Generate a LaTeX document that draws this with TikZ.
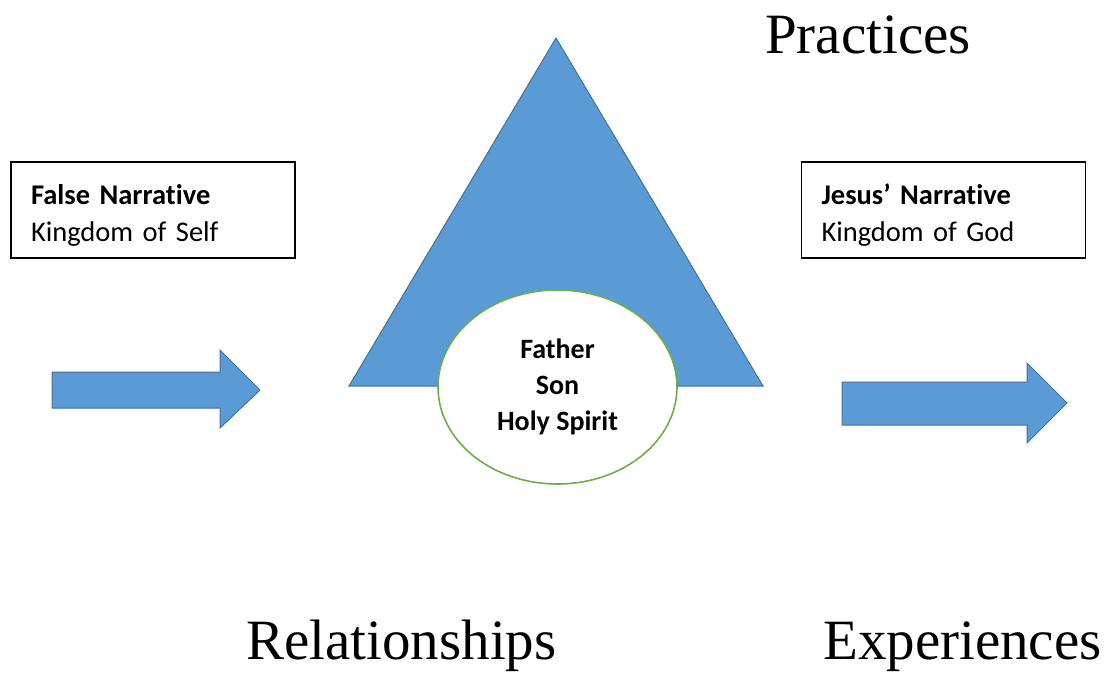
\documentclass[tikz,border=0pt]{standalone}
\usepackage{fontspec}
\setmainfont{Liberation Serif}
\newfontfamily\calibri[Ligatures=NoCommon]{Carlito}
\usetikzlibrary{shapes.geometric}
\definecolor{triblue}{HTML}{5B9BD5}
\definecolor{triedge}{HTML}{41719C}
\definecolor{ovalgreen}{HTML}{70AD47}
\tikzset{
  narrbox/.style={draw,line width=1.2pt,minimum width=284,minimum height=96,
    text width=244,inner xsep=20,align=left,
    font=\calibri\fontsize{28.5}{37}\selectfont},
  blockarrow/.style={fill=triblue,draw=triedge,line width=1pt,line join=miter},
  oval/.style={ellipse,draw=ovalgreen,fill=white,line width=1.6pt,
    minimum width=239,minimum height=194,inner sep=0pt,align=center,
    font=\calibri\bfseries\fontsize{28}{36}\selectfont},
  biglabel/.style={anchor=base west,inner sep=0pt,font=\fontsize{57}{68}\selectfont}
}
\begin{document}
\begin{tikzpicture}[x=1pt,y=-1pt]
\useasboundingbox (0,0) rectangle (1111,672);
% narratives
\node[narrbox] (falsebox) at (153,210) {\rule{0pt}{30pt}\textbf{False Narrative}\\Kingdom of Self};
\node[narrbox] (jesusbox) at (943.5,210) {\rule{0pt}{30pt}\textbf{Jesus’ Narrative}\\Kingdom of God};
% arrows in and out
\draw[blockarrow] (52,372)--(220,372)--(220,350)--(260,390)--(220,428)--(220,408)--(52,408)--cycle;
\draw[blockarrow] (842,382)--(1027,382)--(1027,363)--(1067,403)--(1027,443)--(1027,425)--(842,425)--cycle;
% triangle with the trinity
\draw[blockarrow] (556,38)--(763,386)--(349,386)--cycle;
\node[oval] (trinity) at (557.5,387) {Father\\Son\\Holy Spirit};
% corners
\node[biglabel] (practices) at (765,53) {Practices};
\node[biglabel] (relationships) at (246,659) {Relationships};
\node[biglabel] (experiences) at (823,659) {Experiences};
\end{tikzpicture}
\end{document}
